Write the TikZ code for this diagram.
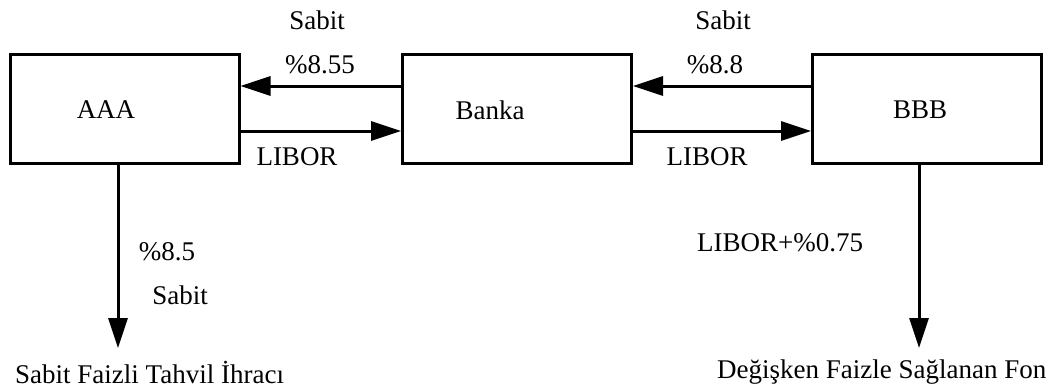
\documentclass[tikz,border=0pt]{standalone}
\usepackage{fontspec}
\setmainfont{Liberation Serif}
\usetikzlibrary{arrows.meta}
\begin{document}
\begin{tikzpicture}[x=1pt,y=-1pt,
  box/.style={draw,line width=3pt,minimum width=229pt,minimum height=109pt,inner sep=0pt},
  flow/.style={line width=3pt,-{Triangle[length=30pt,width=19pt]}},
  lbl/.style={font=\fontsize{27}{32}\selectfont,inner sep=0pt}]
\useasboundingbox (0,0) rectangle (1048,388);
\fill[white] (0,0) rectangle (1048,388);
\node[box] (aaa) at (124.5,108.5) {};
\node[box] (banka) at (517,108.5) {};
\node[box] (bbb) at (927,108.5) {};
\node[lbl] (taaa) at (106,110) {AAA};
\node[lbl] (tbanka) at (490,110) {Banka};
\node[lbl] (tbbb) at (920,110) {BBB};
\draw[flow] ([yshift=22.5pt]banka.west) -- ([yshift=22.5pt]aaa.east);
\draw[flow] ([yshift=-22.5pt]aaa.east) -- ([yshift=-22.5pt]banka.west);
\draw[flow] ([yshift=22.5pt]bbb.west) -- ([yshift=22.5pt]banka.east);
\draw[flow] ([yshift=-22.5pt]banka.east) -- ([yshift=-22.5pt]bbb.west);
\coordinate (endA) at (118,348);
\coordinate (endB) at (919,348);
\draw[flow] ([xshift=-6.5pt]aaa.south) -- (endA);
\draw[flow] ([xshift=-8pt]bbb.south) -- (endB);
\node[lbl] (s1) at (317,20) {Sabit};
\node[lbl] (r1) at (320,65) {\%8.55};
\node[lbl] (l1) at (297,157) {LIBOR};
\node[lbl] (s2) at (723,20) {Sabit};
\node[lbl] (r2) at (715,65) {\%8.8};
\node[lbl] (l2) at (707,157) {LIBOR};
\node[lbl] (r3) at (167,252) {\%8.5};
\node[lbl] (s3) at (180,295) {Sabit};
\node[lbl,anchor=west] (r4) at (697,243) {LIBOR+\%0.75};
\node[lbl,anchor=west] (b1) at (15,372) {Sabit Faizli Tahvil İhracı};
\node[lbl,anchor=west] (b2) at (717,372) {Değişken Faizle Sağlanan Fon};
\end{tikzpicture}
\end{document}
